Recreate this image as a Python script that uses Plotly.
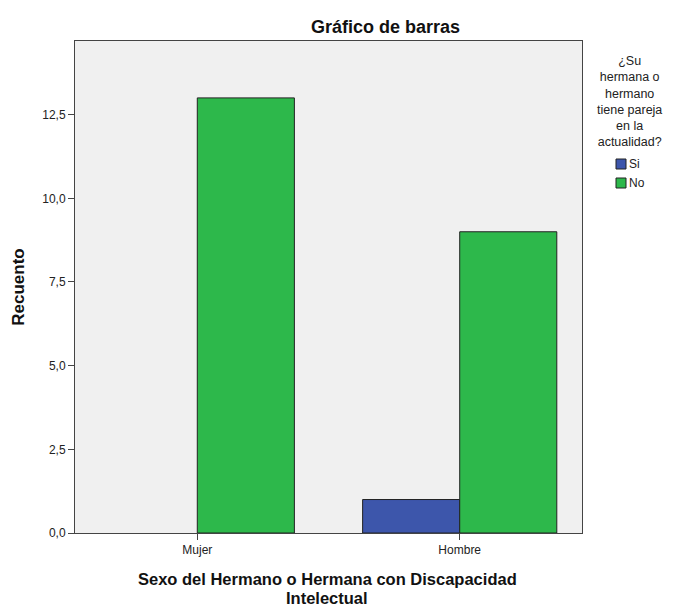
import plotly.graph_objects as go

categories = ["Mujer", "Hombre"]
series_names = ["Si", "No"]
si_values = [0, 1]
no_values = [13, 9]
yticks = [0, 2.5, 5, 7.5, 10, 12.5]
ytick_labels = ["0,0", "2,5", "5,0", "7,5", "10,0", "12,5"]
colors = ["#3D56AB", "#2DB84B"]

W, H = 675, 608
L, R, T, B = 75, 93, 41, 75
PW, PH = W - L - R, H - T - B


def px_x(x):
    return (x - L) / PW


def px_y(y):
    return (H - B - y) / PH


fig = go.Figure()
for name, vals, col in zip(series_names, [si_values, no_values], colors):
    fig.add_trace(go.Bar(
        name=name, x=categories, y=vals,
        marker=dict(color=col,
                    line=dict(color="#222222", width=[1 if v > 0 else 0 for v in vals]))))

font = "Liberation Sans, Arial, sans-serif"
annotations = [
    dict(text="<b>Gráfico de barras</b>", x=px_x(385), y=px_y(27),
         xanchor="center", yanchor="middle", font=dict(size=18, color="#111111")),
    dict(text="<b>Sexo del Hermano o Hermana con Discapacidad</b>", x=px_x(327), y=px_y(579),
         xanchor="center", yanchor="middle", font=dict(size=16.5, color="#111111")),
    dict(text="<b>Intelectual</b>", x=px_x(327), y=px_y(598),
         xanchor="center", yanchor="middle", font=dict(size=16.5, color="#111111")),
    dict(text="¿Su<br>hermana o<br>hermano<br>tiene pareja<br>en la<br>actualidad?",
         x=px_x(629), y=px_y(52), xanchor="center", yanchor="top", align="center",
         font=dict(size=12.5, color="#222222")),
]
shapes = []
legend_rows = [164, 183]
for name, col, yc in zip(series_names, colors, legend_rows):
    shapes.append(dict(type="rect", xref="paper", yref="paper",
                       x0=px_x(616), x1=px_x(626), y0=px_y(yc - 5), y1=px_y(yc + 5),
                       fillcolor=col, line=dict(color="#222222", width=1)))
    annotations.append(dict(text=name, x=px_x(627), y=px_y(yc), xanchor="left",
                            yanchor="middle", font=dict(size=12, color="#222222")))
for a in annotations:
    a.update(xref="paper", yref="paper", showarrow=False)

fig.update_layout(
    width=W, height=H,
    margin=dict(l=L, r=R, t=T, b=B, autoexpand=False),
    paper_bgcolor="white", plot_bgcolor="#F0F0F0",
    barmode="group", bargap=0.26, bargroupgap=0,
    font=dict(family=font, size=12, color="#222222"),
    showlegend=False,
    xaxis=dict(type="category", range=[-0.466, 1.466], showgrid=False,
               showline=True, linecolor="#444444", linewidth=1, mirror=True,
               ticks="outside", ticklen=6, tickcolor="#444444",
               tickfont=dict(size=12)),
    yaxis=dict(range=[0, 14.7], showgrid=False, zeroline=False,
               showline=True, linecolor="#444444", linewidth=1, mirror=True,
               ticks="outside", ticklen=6, tickcolor="#444444",
               tickvals=yticks, ticktext=ytick_labels, tickfont=dict(size=12),
               title=dict(text="<b>Recuento</b>", font=dict(size=17, color="#111111"), standoff=13)),
    annotations=annotations,
    shapes=shapes,
)

fig.write_html("out.html", config={"displayModeBar": False},
               post_script="document.body.style.margin='0';")
